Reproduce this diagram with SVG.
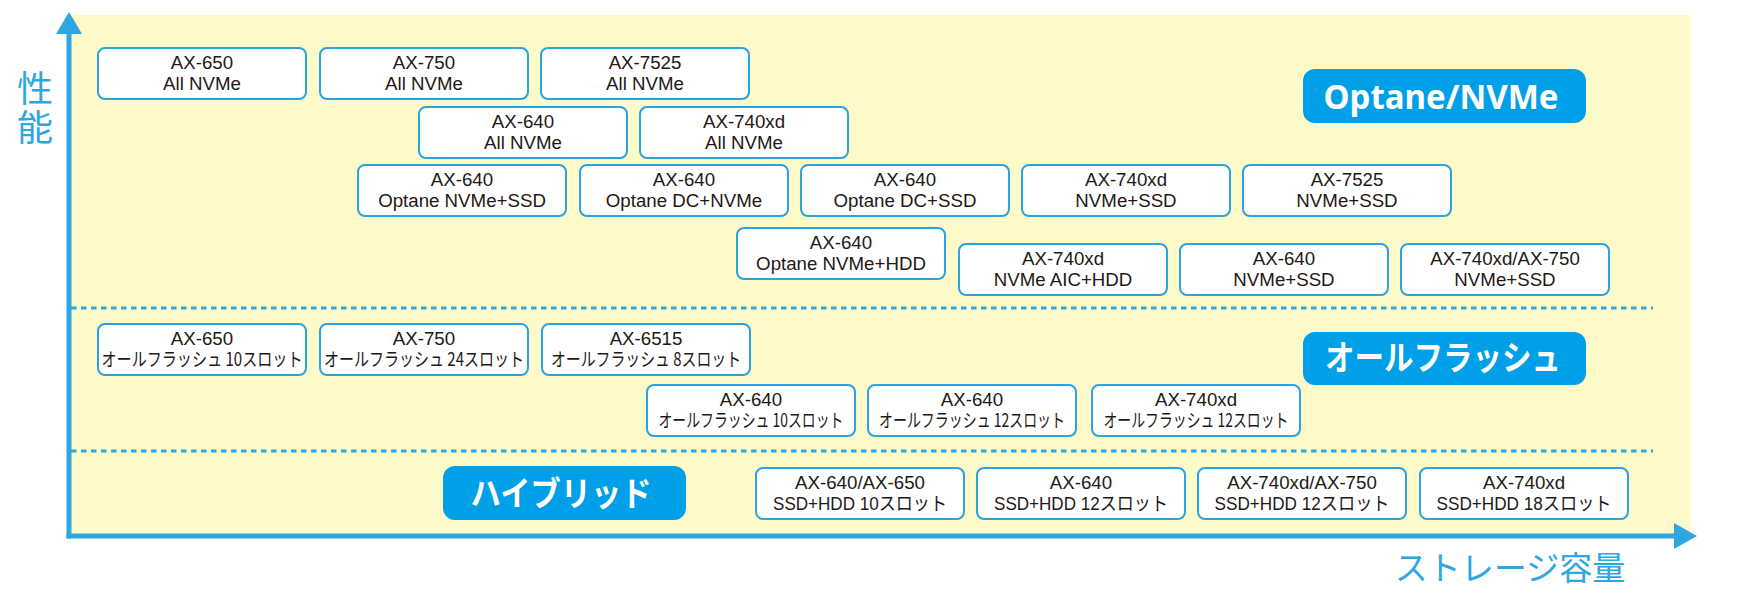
<svg xmlns="http://www.w3.org/2000/svg" width="1744" height="600" viewBox="0 0 1744 600">
<style>
.bg{fill:#fef9c8}
.ax{stroke:#2ea7e0;stroke-width:5;fill:none}
.ah{fill:#2ea7e0}
.dv{stroke:#2ea7e0;stroke-width:3.2;stroke-dasharray:5.5 4.5;fill:none}
.nb{fill:#ffffff;stroke:#2aa4de;stroke-width:2}
.t{font-family:"Liberation Sans","Noto Sans CJK JP",sans-serif;font-size:18.7px;fill:#231815;text-anchor:middle}
.j{font-family:"Noto Sans CJK JP","Liberation Sans",sans-serif;font-size:18.7px;fill:#231815;text-anchor:middle}
.cat{fill:#00a0e9}
.ct{font-family:"Noto Sans","Noto Sans CJK JP",sans-serif;font-weight:bold;font-size:34px;fill:#ffffff;text-anchor:middle}
.cj{font-family:"Noto Sans CJK JP",sans-serif;font-weight:bold;font-size:34px;fill:#ffffff;text-anchor:middle}
.axl{font-family:"Noto Sans CJK JP",sans-serif;fill:#2ea7e0;text-anchor:middle}
</style>
<rect class="bg" x="71" y="15" width="1620" height="519"/>
<g id="axes">
<line class="ax" x1="69" y1="30" x2="69" y2="538.5"/>
<line class="ax" x1="66.5" y1="536" x2="1676" y2="536"/>
<polygon class="ah" points="69,12 56,34 82,34"/>
<polygon class="ah" points="1697,536 1674,523 1674,549"/>
<line class="dv" x1="71" y1="308" x2="1653" y2="308"/>
<line class="dv" x1="71" y1="451" x2="1653" y2="451"/>
</g>
<g id="axis-labels">
<text class="axl" x="35" y="102" font-size="36">性</text>
<text class="axl" x="35" y="141" font-size="36">能</text>
<text class="axl" x="1510" y="580" font-size="33">ストレージ容量</text>
</g>
<g id="cat-optane"><rect class="cat" x="1303" y="69" width="283" height="54" rx="12"/><text class="ct" x="1441" y="109" textLength="235" lengthAdjust="spacingAndGlyphs">Optane/NVMe</text></g>
<g id="cat-allflash"><rect class="cat" x="1303" y="332" width="283" height="53" rx="12"/><text class="cj" x="1443" y="370" textLength="236" lengthAdjust="spacingAndGlyphs">オールフラッシュ</text></g>
<g id="cat-hybrid"><rect class="cat" x="443" y="466" width="243" height="54" rx="12"/><text class="cj" x="561" y="506" textLength="181" lengthAdjust="spacingAndGlyphs">ハイブリッド</text></g>

<g id="n1"><rect class="nb" x="98" y="48" width="208" height="51" rx="7"/><text class="t" x="202" y="69">AX-650</text><text class="t" x="202" y="90">All NVMe</text></g>
<g id="n2"><rect class="nb" x="320" y="48" width="208" height="51" rx="7"/><text class="t" x="424" y="69">AX-750</text><text class="t" x="424" y="90">All NVMe</text></g>
<g id="n3"><rect class="nb" x="541" y="48" width="208" height="51" rx="7"/><text class="t" x="645" y="69">AX-7525</text><text class="t" x="645" y="90">All NVMe</text></g>

<g id="n4"><rect class="nb" x="419" y="107" width="208" height="51" rx="7"/><text class="t" x="523" y="128">AX-640</text><text class="t" x="523" y="149">All NVMe</text></g>
<g id="n5"><rect class="nb" x="640" y="107" width="208" height="51" rx="7"/><text class="t" x="744" y="128">AX-740xd</text><text class="t" x="744" y="149">All NVMe</text></g>

<g id="n6"><rect class="nb" x="358" y="165" width="208" height="51" rx="7"/><text class="t" x="462" y="186">AX-640</text><text class="t" x="462" y="207">Optane NVMe+SSD</text></g>
<g id="n7"><rect class="nb" x="580" y="165" width="208" height="51" rx="7"/><text class="t" x="684" y="186">AX-640</text><text class="t" x="684" y="207">Optane DC+NVMe</text></g>
<g id="n8"><rect class="nb" x="801" y="165" width="208" height="51" rx="7"/><text class="t" x="905" y="186">AX-640</text><text class="t" x="905" y="207">Optane DC+SSD</text></g>
<g id="n9"><rect class="nb" x="1022" y="165" width="208" height="51" rx="7"/><text class="t" x="1126" y="186">AX-740xd</text><text class="t" x="1126" y="207">NVMe+SSD</text></g>
<g id="n10"><rect class="nb" x="1243" y="165" width="208" height="51" rx="7"/><text class="t" x="1347" y="186">AX-7525</text><text class="t" x="1347" y="207">NVMe+SSD</text></g>

<g id="n11"><rect class="nb" x="737" y="228" width="208" height="51" rx="7"/><text class="t" x="841" y="249">AX-640</text><text class="t" x="841" y="270">Optane NVMe+HDD</text></g>
<g id="n12"><rect class="nb" x="959" y="244" width="208" height="51" rx="7"/><text class="t" x="1063" y="265">AX-740xd</text><text class="t" x="1063" y="286">NVMe AIC+HDD</text></g>
<g id="n13"><rect class="nb" x="1180" y="244" width="208" height="51" rx="7"/><text class="t" x="1284" y="265">AX-640</text><text class="t" x="1284" y="286">NVMe+SSD</text></g>
<g id="n14"><rect class="nb" x="1401" y="244" width="208" height="51" rx="7"/><text class="t" x="1505" y="265">AX-740xd/AX-750</text><text class="t" x="1505" y="286">NVMe+SSD</text></g>

<g id="n15"><rect class="nb" x="98" y="324" width="208" height="51" rx="7"/><text class="t" x="202" y="345">AX-650</text><text class="j" x="202" y="366" textLength="201" lengthAdjust="spacingAndGlyphs">オールフラッシュ 10スロット</text></g>
<g id="n16"><rect class="nb" x="320" y="324" width="208" height="51" rx="7"/><text class="t" x="424" y="345">AX-750</text><text class="j" x="424" y="366" textLength="200" lengthAdjust="spacingAndGlyphs">オールフラッシュ 24スロット</text></g>
<g id="n17"><rect class="nb" x="542" y="324" width="208" height="51" rx="7"/><text class="t" x="646" y="345">AX-6515</text><text class="j" x="646" y="366" textLength="190" lengthAdjust="spacingAndGlyphs">オールフラッシュ 8スロット</text></g>

<g id="n18"><rect class="nb" x="647" y="385" width="208" height="51" rx="7"/><text class="t" x="751" y="406">AX-640</text><text class="j" x="751" y="427" textLength="185" lengthAdjust="spacingAndGlyphs">オールフラッシュ 10スロット</text></g>
<g id="n19"><rect class="nb" x="868" y="385" width="208" height="51" rx="7"/><text class="t" x="972" y="406">AX-640</text><text class="j" x="972" y="427" textLength="186" lengthAdjust="spacingAndGlyphs">オールフラッシュ 12スロット</text></g>
<g id="n20"><rect class="nb" x="1092" y="385" width="208" height="51" rx="7"/><text class="t" x="1196" y="406">AX-740xd</text><text class="j" x="1196" y="427" textLength="185" lengthAdjust="spacingAndGlyphs">オールフラッシュ 12スロット</text></g>

<g id="n21"><rect class="nb" x="756" y="468" width="208" height="51" rx="7"/><text class="t" x="860" y="489">AX-640/AX-650</text><text class="t" x="860" y="510" textLength="174" lengthAdjust="spacingAndGlyphs">SSD+HDD 10スロット</text></g>
<g id="n22"><rect class="nb" x="977" y="468" width="208" height="51" rx="7"/><text class="t" x="1081" y="489">AX-640</text><text class="t" x="1081" y="510" textLength="174" lengthAdjust="spacingAndGlyphs">SSD+HDD 12スロット</text></g>
<g id="n23"><rect class="nb" x="1198" y="468" width="208" height="51" rx="7"/><text class="t" x="1302" y="489">AX-740xd/AX-750</text><text class="t" x="1302" y="510" textLength="175" lengthAdjust="spacingAndGlyphs">SSD+HDD 12スロット</text></g>
<g id="n24"><rect class="nb" x="1420" y="468" width="208" height="51" rx="7"/><text class="t" x="1524" y="489">AX-740xd</text><text class="t" x="1524" y="510" textLength="175" lengthAdjust="spacingAndGlyphs">SSD+HDD 18スロット</text></g>
</svg>
